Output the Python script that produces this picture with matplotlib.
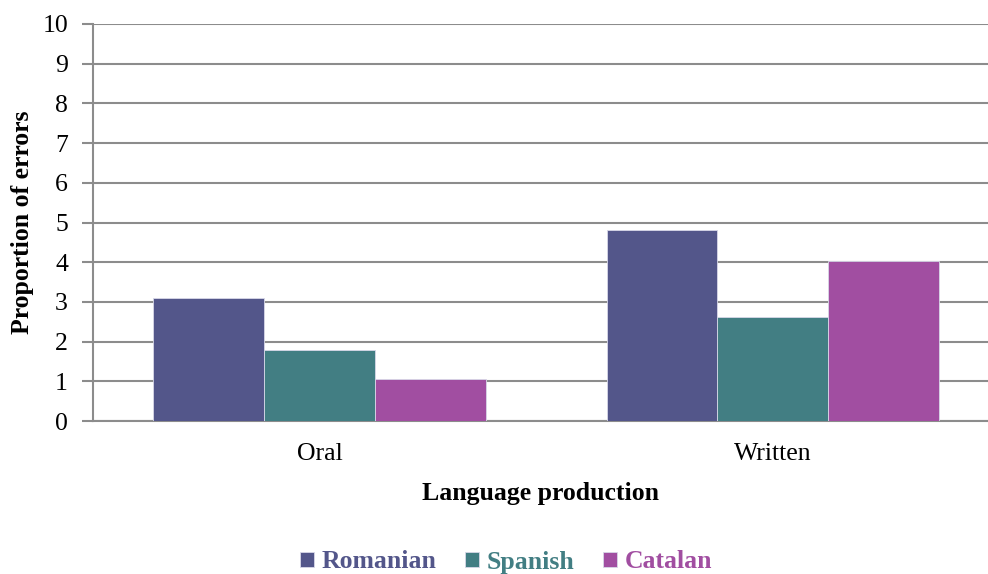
import matplotlib
matplotlib.use("Agg")
import matplotlib.pyplot as plt
import numpy as np

categories = ["Oral", "Written"]
series_names = ["Romanian", "Spanish", "Catalan"]
romanian = [3.09, 4.80]
spanish = [1.78, 2.63]
catalan = [1.06, 4.03]
yticks = list(range(0, 11))
colors = ["#53568A", "#427E83", "#A14EA1"]

plt.rcParams['font.family'] = ['Liberation Serif', 'DejaVu Serif']
FS = 18.5

fig = plt.figure(figsize=(9.88, 5.74), dpi=100)
W, H = 988, 574
ax = fig.add_axes([93 / W, 1 - 421 / H, (988 - 93) / W, (421 - 24) / H])

x = np.arange(len(categories))
bw = 0.245
values = [romanian, spanish, catalan]
for i, (name, vals, c) in enumerate(zip(series_names, values, colors)):
    ax.bar(x + (i - 1) * bw, vals, width=bw, color=c, edgecolor="#D8D8E8",
           linewidth=0.6, label=name, zorder=3)

ax.set_ylim(0, 10)
ax.set_xlim(-0.501, 1.4746)
ax.set_yticks(yticks)
ax.set_yticklabels([str(t) for t in yticks], fontsize=FS)
ax.set_xticks(x)
ax.set_xticklabels(categories, fontsize=FS)
ax.tick_params(axis='x', length=0, pad=16)
ax.tick_params(axis='y', length=8, width=1.5, color="#8C8C8C", pad=10)
ax.grid(axis='y', color="#8C8C8C", linewidth=1.5, zorder=0)
ax.set_axisbelow(True)
for s in ["top", "right"]:
    ax.spines[s].set_visible(False)
for s in ["left", "bottom"]:
    ax.spines[s].set_color("#8C8C8C")
    ax.spines[s].set_linewidth(1.5)

ax.set_xlabel("Language production", fontsize=FS, fontweight="bold", labelpad=12)
ax.set_ylabel("Proportion of errors", fontsize=FS, fontweight="bold", labelpad=6)

leg = fig.legend(loc="center", bbox_to_anchor=(506 / W, 1 - 562 / H), ncol=3,
                 frameon=False, prop={"size": FS, "weight": "bold"},
                 handlelength=0.55, handleheight=0.55, handletextpad=0.3,
                 columnspacing=1.1)
for t, c in zip(leg.get_texts(), colors):
    t.set_color(c)

fig.savefig("out.png", dpi=100)
